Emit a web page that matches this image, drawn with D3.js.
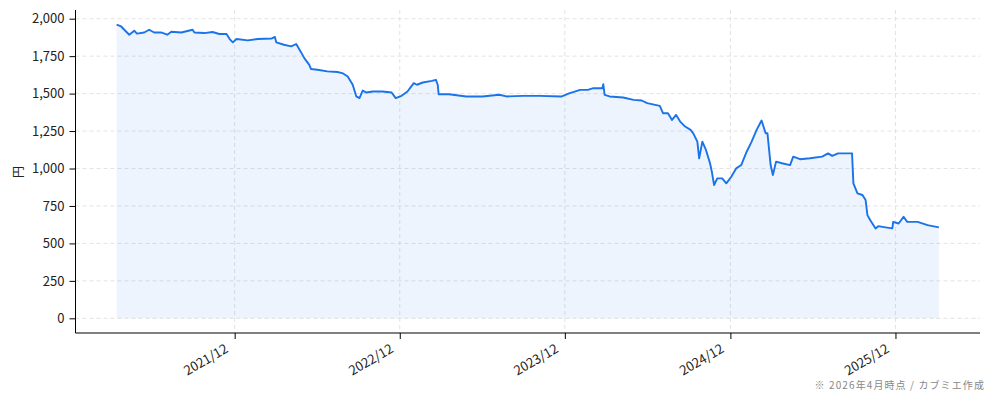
<!DOCTYPE html>
<html lang="ja">
<head>
<meta charset="UTF-8">
<title>株価推移</title>
<script src="https://d3js.org/d3.v7.min.js"></script>
<style>
  html, body { margin: 0; padding: 0; background: #fff; }
  svg text { font-family: "Noto Sans CJK JP", "Noto Sans", sans-serif; }
</style>
</head>
<body>
<div id="chart"></div>
<script>
// price history
const dates = [
  "2021-03-15","2021-03-25","2021-04-01","2021-04-12","2021-04-23","2021-04-29","2021-05-15","2021-05-26",
  "2021-06-06","2021-06-21","2021-07-05","2021-07-14","2021-08-05","2021-08-30","2021-09-03","2021-09-25",
  "2021-10-13","2021-10-28","2021-11-13","2021-11-20","2021-11-27","2021-12-05","2021-12-30","2022-01-21",
  "2022-02-21","2022-02-28","2022-03-03","2022-03-20","2022-04-05","2022-04-16","2022-04-27","2022-05-04",
  "2022-05-15","2022-05-19","2022-06-02","2022-06-24","2022-07-16","2022-07-27","2022-08-08","2022-08-19",
  "2022-08-27","2022-09-03","2022-09-10","2022-09-19","2022-10-02","2022-10-24","2022-11-13","2022-11-22",
  "2022-12-05","2022-12-18","2023-01-01","2023-01-08","2023-01-21","2023-02-10","2023-02-19","2023-02-23",
  "2023-02-25","2023-03-20","2023-04-27","2023-06-02","2023-07-09","2023-07-25","2023-08-30","2023-10-06",
  "2023-11-24","2023-12-12","2024-01-04","2024-01-21","2024-02-02","2024-02-22","2024-02-24","2024-02-27",
  "2024-03-09","2024-04-08","2024-05-01","2024-05-19","2024-05-31","2024-06-28","2024-07-05","2024-07-16",
  "2024-07-25","2024-08-03","2024-08-12","2024-08-23","2024-09-04","2024-09-10","2024-09-19","2024-09-23",
  "2024-09-30","2024-10-08","2024-10-17","2024-10-21","2024-10-26","2024-11-02","2024-11-13","2024-11-22",
  "2024-12-03","2024-12-14","2024-12-25","2025-01-06","2025-01-17","2025-01-28","2025-02-08","2025-02-17",
  "2025-02-21","2025-02-28","2025-03-05","2025-03-12","2025-03-25","2025-04-12","2025-04-19","2025-05-04",
  "2025-05-26","2025-06-22","2025-07-05","2025-07-14","2025-07-27","2025-08-27","2025-08-30","2025-09-08",
  "2025-09-19","2025-09-26","2025-09-30","2025-10-06","2025-10-18","2025-10-24","2025-11-09","2025-11-24",
  "2025-11-26","2025-12-08","2025-12-19","2025-12-27","2026-01-19","2026-02-10","2026-03-07"
];
const prices = [
  1960,1948,1926,1893,1920,1900,1908,1926,
  1908,1908,1893,1913,1908,1926,1908,1904,
  1911,1898,1898,1864,1842,1864,1855,1864,
  1868,1878,1842,1826,1815,1831,1775,1737,
  1692,1664,1659,1648,1644,1637,1614,1559,
  1481,1470,1520,1507,1514,1514,1507,1470,
  1485,1514,1570,1559,1574,1585,1592,1559,
  1496,1496,1481,1481,1492,1481,1485,1485,
  1481,1503,1525,1525,1536,1536,1563,1492,
  1481,1474,1458,1454,1436,1418,1369,1369,
  1324,1358,1313,1280,1258,1235,1179,1068,
  1179,1124,1035,979,890,934,934,901,
  945,1001,1023,1112,1179,1258,1320,1235,
  1235,1023,957,1046,1035,1023,1079,1062,
  1068,1079,1101,1084,1101,1101,901,834,
  823,789,689,656,600,615,607,600,
  644,633,678,644,644,622,607
];
const yTicks = [0, 250, 500, 750, 1000, 1250, 1500, 1750, 2000];
const xTicks = ["2021-12-01","2022-12-01","2023-12-01","2024-12-01","2025-12-01"];
const yLabel = "円";
const note = "※ 2026年4月時点 / カブミエ作成";

const W = 994, H = 401;
const mLeft = 75.5, mRight = 980, mTop = 10, mBottom = 333;
const parse = d3.timeParse("%Y-%m-%d");
const data = dates.map((d, i) => ({ date: parse(d), value: prices[i] }));

// matplotlib-style 5% margins
const [t0, t1] = d3.extent(data, d => d.date);
const pad = (t1 - t0) * 0.05;
const x = d3.scaleTime()
  .domain([new Date(+t0 - pad), new Date(+t1 + pad)])
  .range([mLeft, mRight]);
const vmax = d3.max(prices);
const y = d3.scaleLinear()
  .domain([-vmax * 0.05, vmax * 1.05])
  .range([mBottom, mTop]);

const svg = d3.select("#chart").append("svg")
  .attr("width", W).attr("height", H);

// grid
const grid = svg.append("g").attr("stroke", "#dcdcdc").attr("stroke-width", 0.8)
  .attr("stroke-dasharray", "4,3");
grid.selectAll(".gy").data(yTicks).enter().append("line")
  .attr("x1", mLeft).attr("x2", mRight)
  .attr("y1", d => y(d)).attr("y2", d => y(d));
grid.selectAll(".gx").data(xTicks).enter().append("line")
  .attr("x1", d => x(parse(d))).attr("x2", d => x(parse(d)))
  .attr("y1", mTop).attr("y2", mBottom);

// area + line
const area = d3.area().x(d => x(d.date)).y0(y(0)).y1(d => y(d.value));
svg.append("path").datum(data).attr("d", area)
  .attr("fill", "#1a73e8").attr("fill-opacity", 0.08);
const line = d3.line().x(d => x(d.date)).y(d => y(d.value));
svg.append("path").datum(data).attr("d", line)
  .attr("fill", "none").attr("stroke", "#1a73e8")
  .attr("stroke-width", 1.9).attr("stroke-linejoin", "round");

// y axis
const yAxis = svg.append("g").attr("transform", `translate(${mLeft},0)`)
  .call(d3.axisLeft(y).tickValues(yTicks).tickSize(6).tickPadding(5)
    .tickFormat(d3.format(",")));
yAxis.select(".domain").attr("d", `M0,${mTop}V${mBottom}`).attr("stroke", "#000");
yAxis.selectAll("text").attr("font-size", 13).attr("fill", "#222")
  .style("font-family", "'Noto Sans CJK JP', sans-serif");

// x axis
const fmt = d3.timeFormat("%Y/%m");
const xAxis = svg.append("g").attr("transform", `translate(0,${mBottom})`)
  .call(d3.axisBottom(x).tickValues(xTicks.map(parse)).tickSize(6)
    .tickFormat(fmt));
xAxis.select(".domain").attr("d", `M${mLeft},0H${mRight}`).attr("stroke", "#000");
xAxis.selectAll("text")
  .attr("font-size", 13).attr("fill", "#222")
  .style("font-family", "'Noto Sans CJK JP', sans-serif")
  .attr("text-anchor", "end")
  .attr("x", -14.5).attr("y", 13).attr("dy", null)
  .attr("transform", "rotate(-30)");

// labels
svg.append("text")
  .attr("transform", "translate(22.5,172) rotate(-90)")
  .attr("text-anchor", "middle").attr("font-size", 12).attr("fill", "#222")
  .text(yLabel);
svg.append("text")
  .attr("x", 985).attr("y", 389)
  .attr("text-anchor", "end").attr("font-size", 10).attr("fill", "#888")
  .attr("letter-spacing", 1.1)
  .text(note);
</script>
</body>
</html>
